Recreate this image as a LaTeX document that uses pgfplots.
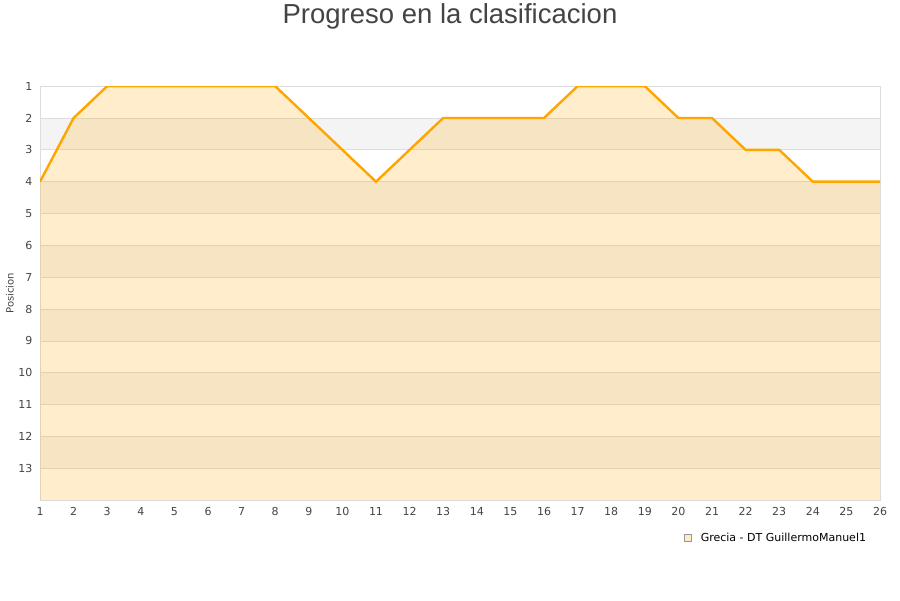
\documentclass[border=0pt]{standalone}
\usepackage{pgfplots}
\pgfplotsset{compat=1.18}
\usepackage{fontspec}
\setmainfont{DejaVu Sans}
\newfontfamily\titlefont{Liberation Sans}

\definecolor{bandgray}{HTML}{F4F4F4}
\definecolor{gridgray}{HTML}{DDDDDD}
\definecolor{linecol}{HTML}{FFA500}
\definecolor{txt}{HTML}{444444}

\begin{document}
\begin{tikzpicture}
\path (-40pt,-100pt) rectangle (860pt,500pt);
\begin{axis}[
  set layers,
  at={(0pt,0pt)}, anchor=south west,
  scale only axis, width=840pt, height=414pt,
  xmin=1, xmax=26, ymin=1, ymax=14, y dir=reverse,
  xtick={1,...,26}, ytick={1,...,13},
  major tick length=0pt,
  ymajorgrids, grid style={gridgray, line width=0.7pt},
  axis line style={gridgray, line width=0.8pt},
  tick label style={font=\fontsize{11}{13}\selectfont, text=txt},
  /pgf/number format/assume math mode=true,
  xticklabel style={yshift=-4pt},
  yticklabel style={xshift=-4pt},
  ylabel={Posicion},
  every axis y label/.style={at={(axis description cs:-0.0357,0.5)}, rotate=90, anchor=center, font=\fontsize{10}{12}\selectfont, text=txt},
  legend style={at={(0.986,-0.091)}, anchor=east, draw=none, fill=none,
    font=\fontsize{11}{13}\selectfont, inner sep=0pt},
  legend cell align=left,
]
% alternating background bands
\pgfplotsinvokeforeach{2,4,6,8,10,12}{
  \addplot[on layer=axis background, draw=none, fill=bandgray, forget plot]
    coordinates {(1,#1) (26,#1) (26,#1+1) (1,#1+1)} -- cycle;
}
% area under the ranking line
\addplot[draw=none, fill=linecol, fill opacity=0.2, forget plot] coordinates {
  (1,14) (1,4) (2,2) (3,1) (4,1) (5,1) (6,1) (7,1) (8,1) (9,2) (10,3) (11,4)
  (12,3) (13,2) (14,2) (15,2) (16,2) (17,1) (18,1) (19,1) (20,2) (21,2)
  (22,3) (23,3) (24,4) (25,4) (26,4) (26,14)} -- cycle;
% ranking line
\addplot[linecol, line width=2.4pt, forget plot] coordinates {
  (1,4) (2,2) (3,1) (4,1) (5,1) (6,1) (7,1) (8,1) (9,2) (10,3) (11,4)
  (12,3) (13,2) (14,2) (15,2) (16,2) (17,1) (18,1) (19,1) (20,2) (21,2)
  (22,3) (23,3) (24,4) (25,4) (26,4)};
\addlegendimage{only marks, mark=square*, mark size=3.7pt, mark options={fill=linecol!22, draw=gray!80, line width=0.6pt}}
\addlegendentry{\hspace{7pt}Grecia - DT GuillermoManuel1}
\end{axis}
\node[font=\titlefont\fontsize{27.5}{32}\selectfont, text=txt] at (410pt,484pt) {Progreso en la clasificacion};
\end{tikzpicture}
\end{document}
